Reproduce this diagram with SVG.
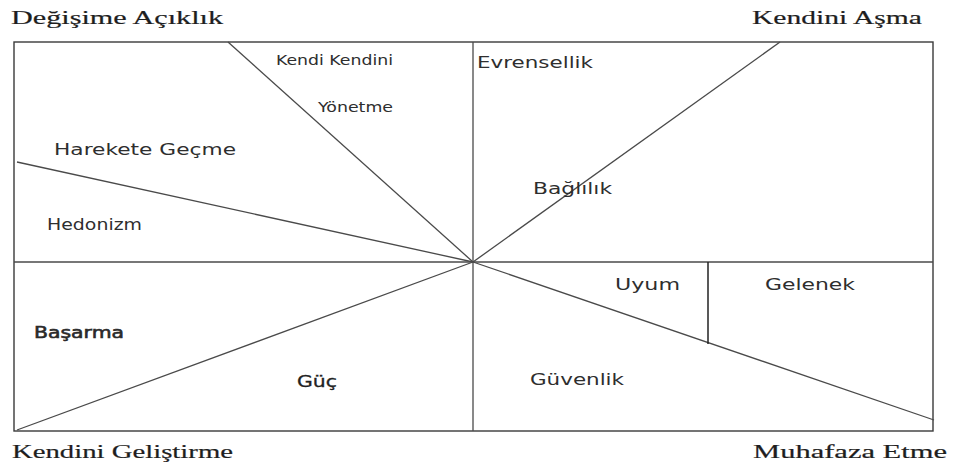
<svg xmlns="http://www.w3.org/2000/svg" width="955" height="468" viewBox="0 0 955 468">
<style>
.frame{fill:none;stroke:#3a3a3a;stroke-width:1.4}
.ln{stroke:#4a4a4a;stroke-width:1.3;fill:none}
.sep{stroke:#222;stroke-width:1.5}
.serif{font-family:"Liberation Serif","DejaVu Serif",serif;font-size:19.5px;fill:#1e1e1e;stroke:#1e1e1e;stroke-width:0.2}
.lbl{font-family:"DejaVu Sans","Liberation Sans",sans-serif;font-size:16.5px;fill:#2e2e2e}
.sm{font-size:13.5px}
.bd{stroke:#2a2a2a;stroke-width:0.6;fill:#2a2a2a}
</style>
<rect width="955" height="468" fill="#fff"/>
<g id="connectors">
<rect class="frame" x="14" y="42" width="919" height="389"/>
<line class="ln" x1="473" y1="42" x2="473" y2="431"/>
<line class="ln" x1="14" y1="262" x2="933" y2="262"/>
<line class="ln" x1="228" y1="42" x2="473" y2="262"/>
<line class="ln" x1="17" y1="162" x2="473" y2="262"/>
<line class="ln" x1="473" y1="262" x2="780" y2="42"/>
<line class="ln" x1="17" y1="430" x2="473" y2="262"/>
<line class="ln" x1="473" y1="262" x2="934" y2="420"/>
<line class="sep" x1="708" y1="262" x2="708" y2="344"/>
</g>
<g id="corner-degisime"><text class="serif" x="11" y="24" textLength="212" lengthAdjust="spacingAndGlyphs">Değişime Açıklık</text></g>
<g id="corner-kendini-asma"><text class="serif" x="752" y="24" textLength="170" lengthAdjust="spacingAndGlyphs">Kendini Aşma</text></g>
<g id="corner-kendini-gelistirme"><text class="serif" x="12" y="458" textLength="221" lengthAdjust="spacingAndGlyphs">Kendini Geliştirme</text></g>
<g id="corner-muhafaza"><text class="serif" x="753" y="458" textLength="194" lengthAdjust="spacingAndGlyphs">Muhafaza Etme</text></g>
<g id="kendi-kendini-yonetme">
<text class="lbl sm" x="276" y="65" textLength="117" lengthAdjust="spacingAndGlyphs">Kendi Kendini</text>
<text class="lbl sm" x="318" y="112" textLength="75" lengthAdjust="spacingAndGlyphs">Yönetme</text>
</g>
<g id="harekete-gecme"><text class="lbl" x="54" y="155" textLength="182" lengthAdjust="spacingAndGlyphs">Harekete Geçme</text></g>
<g id="hedonizm"><text class="lbl" x="47" y="230" textLength="95" lengthAdjust="spacingAndGlyphs">Hedonizm</text></g>
<g id="evrensellik"><text class="lbl" x="477" y="68" textLength="116" lengthAdjust="spacingAndGlyphs">Evrensellik</text></g>
<g id="baglilik"><text class="lbl" x="533" y="194" textLength="79" lengthAdjust="spacingAndGlyphs">Bağlılık</text></g>
<g id="basarma"><text class="lbl bd" x="34" y="338" textLength="90" lengthAdjust="spacingAndGlyphs">Başarma</text></g>
<g id="guc"><text class="lbl" x="297" y="387" textLength="40" lengthAdjust="spacingAndGlyphs" style="fill:#222;stroke:#222;stroke-width:0.3">Güç</text></g>
<g id="uyum"><text class="lbl" x="615" y="290" textLength="65" lengthAdjust="spacingAndGlyphs">Uyum</text></g>
<g id="gelenek"><text class="lbl" x="765" y="290" textLength="90" lengthAdjust="spacingAndGlyphs">Gelenek</text></g>
<g id="guvenlik"><text class="lbl" x="530" y="385" textLength="94" lengthAdjust="spacingAndGlyphs">Güvenlik</text></g>
</svg>
